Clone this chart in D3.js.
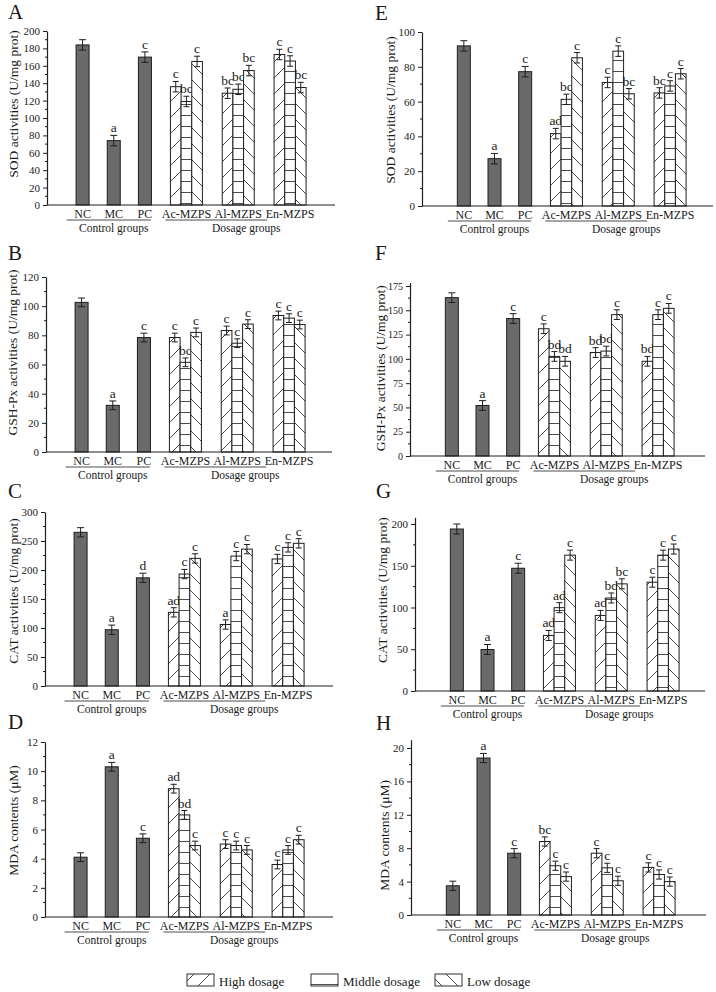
<!DOCTYPE html>
<html><head><meta charset="utf-8">
<script src="https://cdn.jsdelivr.net/npm/d3@7/dist/d3.min.js"></script>
<style>
body{margin:0;background:#fff}
svg{display:block}
text{font-family:"Liberation Serif","Times New Roman",serif;fill:#1a1a1a}
</style>
</head><body>
<svg id="chart" width="716" height="992"></svg>
<script>
// ---------- categories ----------
const controlGroups = ["NC", "MC", "PC"];
const dosageGroups = ["Ac-MZPS", "Al-MZPS", "En-MZPS"];
const dosageLevels = ["High dosage", "Middle dosage", "Low dosage"];

// ---------- A: SOD (left) ----------
const aTicks = [0, 20, 40, 60, 80, 100, 120, 140, 160, 180, 200];
const aCtrl = [184, 74, 170];
const aCtrlErr = [6, 6, 6];
const aCtrlSig = ["", "a", "c"];
const aDose = [[136, 128.5, 173], [119, 133, 165.5], [165, 154.5, 135]]; // rows: High, Middle, Low; cols: Ac, Al, En
const aDoseErr = [[6, 6, 6], [6, 6, 6], [6, 6, 6]];
const aDoseSig = [["c", "bc", "c"], ["bc", "bc", "c"], ["c", "bc", "bc"]];

// ---------- B: GSH-Px (left) ----------
const bTicks = [0, 20, 40, 60, 80, 100, 120];
const bCtrl = [102.6, 32, 78.5];
const bCtrlErr = [3, 3, 3];
const bCtrlSig = ["", "a", "c"];
const bDose = [[78.5, 83.3, 93.6], [61.5, 74.6, 91.8], [82, 87.7, 87.4]];
const bDoseErr = [[3, 3, 3], [3, 3, 3], [3, 3, 3]];
const bDoseSig = [["c", "c", "c"], ["bc", "c", "c"], ["c", "c", "c"]];

// ---------- C: CAT (left) ----------
const cTicks = [0, 50, 100, 150, 200, 250, 300];
const cCtrl = [265, 97, 186.5];
const cCtrlErr = [8, 8, 8];
const cCtrlSig = ["", "a", "d"];
const cDose = [[127, 106, 219], [193, 224, 239], [220, 236, 246]];
const cDoseErr = [[8, 8, 8], [8, 8, 8], [8, 8, 8]];
const cDoseSig = [["ad", "a", "c"], ["c", "c", "c"], ["c", "c", "c"]];

// ---------- D: MDA (left) ----------
const dTicks = [0, 2, 4, 6, 8, 10, 12];
const dCtrl = [4.1, 10.3, 5.4];
const dCtrlErr = [0.3, 0.3, 0.3];
const dCtrlSig = ["", "a", "c"];
const dDose = [[8.8, 5.0, 3.6], [7.0, 4.9, 4.6], [4.9, 4.6, 5.3]];
const dDoseErr = [[0.3, 0.3, 0.3], [0.3, 0.3, 0.3], [0.3, 0.3, 0.3]];
const dDoseSig = [["ad", "c", "c"], ["bd", "c", "c"], ["c", "c", "c"]];

// ---------- E: SOD (right) ----------
const eTicks = [0, 20, 40, 60, 80, 100];
const eCtrl = [92, 27.2, 77.2];
const eCtrlErr = [3, 3, 3];
const eCtrlSig = ["", "a", "c"];
const eDose = [[41.6, 71, 65], [61.3, 89, 69], [85.2, 64.5, 76]];
const eDoseErr = [[3, 3, 3], [3, 3, 3], [3, 3, 3]];
const eDoseSig = [["ad", "c", "bc"], ["bc", "c", "c"], ["c", "bc", "c"]];

// ---------- F: GSH-Px (right) ----------
const fTicks = [0, 25, 50, 75, 100, 125, 150, 175];
const fCtrl = [163, 52, 141.5];
const fCtrlErr = [5, 5, 5];
const fCtrlSig = ["", "a", "c"];
const fDose = [[131, 106.5, 97.5], [102.5, 108, 145.5], [97.5, 145.5, 152]];
const fDoseErr = [[5, 5, 5], [5, 5, 5], [5, 5, 5]];
const fDoseSig = [["c", "bd", "bd"], ["bd", "bd", "c"], ["bd", "c", "c"]];

// ---------- G: CAT (right) ----------
const gTicks = [0, 50, 100, 150, 200];
const gCtrl = [194, 49.7, 147];
const gCtrlErr = [6, 6, 6];
const gCtrlSig = ["", "a", "c"];
const gDose = [[66.5, 90.5, 130.3], [99.8, 111.4, 162.7], [162.7, 128.3, 170]];
const gDoseErr = [[6, 6, 6], [6, 6, 6], [6, 6, 6]];
const gDoseSig = [["ad", "ad", "c"], ["ad", "bd", "c"], ["c", "bc", "c"]];

// ---------- H: MDA (right) ----------
const hTicks = [0, 4, 8, 12, 16, 20];
const hCtrl = [3.5, 18.8, 7.4];
const hCtrlErr = [0.55, 0.55, 0.55];
const hCtrlSig = ["", "a", "c"];
const hDose = [[8.8, 7.4, 5.7], [5.9, 5.65, 4.85], [4.6, 4.1, 4.0]];
const hDoseErr = [[0.55, 0.55, 0.55], [0.55, 0.55, 0.55], [0.55, 0.55, 0.55]];
const hDoseSig = [["bc", "c", "c"], ["c", "c", "c"], ["c", "c", "c"]];

// ---------- layout ----------
const colLayout = [[20, 113.5, 269], [26.5, 118.5, 274]];
const panels = [
  {letter:"A", col:0, x0:47,  x1:335, y0:205, yTop:31,  axisMax:200,  ticks:aTicks, tf:11,   title:"SOD activities (U/mg prot)",    ctrl:aCtrl, ctrlErr:aCtrlErr, ctrlSig:aCtrlSig, dose:aDose, doseErr:aDoseErr, doseSig:aDoseSig, lx:8,   ly:19,  tx:-34, tdy:-14},
  {letter:"B", col:0, x0:46,  x1:332, y0:452, yTop:277, axisMax:120,  ticks:bTicks, tf:11,   title:"GSH-Px activities (U/mg prot)", ctrl:bCtrl, ctrlErr:bCtrlErr, ctrlSig:bCtrlSig, dose:bDose, doseErr:bDoseErr, doseSig:bDoseSig, lx:8,   ly:260, tx:-34, tdy:-12},
  {letter:"C", col:0, x0:45,  x1:333, y0:686, yTop:512, axisMax:300,  ticks:cTicks, tf:11,   title:"CAT activities (U/mg prot)",    ctrl:cCtrl, ctrlErr:cCtrlErr, ctrlSig:cCtrlSig, dose:cDose, doseErr:cDoseErr, doseSig:cDoseSig, lx:8,   ly:498, tx:-32, tdy:-8},
  {letter:"D", col:0, x0:45,  x1:333, y0:917, yTop:742, axisMax:12,   ticks:dTicks, tf:11,   title:"MDA contents (\u03bcM)",         ctrl:dCtrl, ctrlErr:dCtrlErr, ctrlSig:dCtrlSig, dose:dDose, doseErr:dDoseErr, doseSig:dDoseSig, lx:8,   ly:729, tx:-32, tdy:-9},
  {letter:"E", col:1, x0:422, x1:713, y0:206, yTop:32,  axisMax:100,  ticks:eTicks, tf:11,   title:"SOD activities (U/mg prot)",    ctrl:eCtrl, ctrlErr:eCtrlErr, ctrlSig:eCtrlSig, dose:eDose, doseErr:eDoseErr, doseSig:eDoseSig, lx:375, ly:20,  tx:-32, tdy:-9},
  {letter:"F", col:1, x0:410, x1:705, y0:456, yTop:286, axisMax:178.5,ticks:fTicks, tf:10,   title:"GSH-Px activities (U/mg prot)", ctrl:fCtrl, ctrlErr:fCtrlErr, ctrlSig:fCtrlSig, dose:fDose, doseErr:fDoseErr, doseSig:fDoseSig, lx:375, ly:260, tx:-30, tdy:-1},
  {letter:"G", col:1, x0:415, x1:705, y0:691, yTop:524, axisMax:208,  ticks:gTicks, tf:11,   title:"CAT activities (U/mg prot)",    ctrl:gCtrl, ctrlErr:gCtrlErr, ctrlSig:gCtrlSig, dose:gDose, doseErr:gDoseErr, doseSig:gDoseSig, lx:376, ly:498, tx:-33, tdy:-14},
  {letter:"H", col:1, x0:411, x1:706, y0:915, yTop:748, axisMax:21,   ticks:hTicks, tf:11,   title:"MDA contents (\u03bcM)",         ctrl:hCtrl, ctrlErr:hCtrlErr, ctrlSig:hCtrlSig, dose:hDose, doseErr:hDoseErr, doseSig:hDoseSig, lx:376, ly:730, tx:-27, tdy:8}
];

const svg = d3.select("#chart");
svg.append("rect").attr("width", 716).attr("height", 992).attr("fill", "#fff");
const ink = "#1e1e1e";

// ---------- hatch patterns ----------
const defs = svg.append("defs");
function makePattern(id, w, h, d) {
  const p = defs.append("pattern").attr("id", id).attr("patternUnits", "userSpaceOnUse")
    .attr("width", w).attr("height", h);
  p.append("rect").attr("width", w).attr("height", h).attr("fill", "#fff");
  p.append("path").attr("d", d).attr("stroke", ink).attr("stroke-width", 0.8).attr("fill", "none");
}
makePattern("pat0", 16, 16, "M-4,4 L4,-4 M0,16 L16,0 M12,20 L20,12");
makePattern("pat1", 8, 11, "M0,5.5 H8");
makePattern("pat2", 16, 16, "M-4,12 L4,20 M0,0 L16,16 M12,-4 L20,4");

function drawErr(g, cx, yTopV, yBotV, cap) {
  g.append("line").attr("x1", cx).attr("x2", cx).attr("y1", yTopV).attr("y2", yBotV)
    .attr("stroke", ink).attr("stroke-width", 1);
  [yTopV, yBotV].forEach(yy => g.append("line").attr("x1", cx - cap / 2).attr("x2", cx + cap / 2)
    .attr("y1", yy).attr("y2", yy).attr("stroke", ink).attr("stroke-width", 1));
}

panels.forEach(p => {
  const g = svg.append("g");
  const maxTick = p.ticks[p.ticks.length - 1];
  const topPx = p.y0 - (p.y0 - p.yTop) * p.axisMax / maxTick;
  const y = d3.scaleLinear().domain([0, p.axisMax]).range([p.y0, topPx]);
  const L = colLayout[p.col];
  const xc = d3.scalePoint().domain(controlGroups).range([p.x0 + L[0], p.x0 + L[1]]).padding(0.5);
  const xd = d3.scalePoint().domain(dosageGroups).range([p.x0 + L[1], p.x0 + L[2]]).padding(0.5);
  const xl = d3.scaleBand().domain(dosageLevels).range([-16, 16]).padding(0);
  const ctrlW = 13;

  // control bars
  controlGroups.forEach((c, i) => {
    const v = p.ctrl[i], e = p.ctrlErr[i];
    g.append("rect").attr("x", xc(c) - ctrlW / 2).attr("y", y(v)).attr("width", ctrlW)
      .attr("height", y(0) - y(v)).attr("fill", "#6a6a6a").attr("stroke", ink).attr("stroke-width", 1);
    drawErr(g, xc(c), y(v + e), y(v - e), 7);
    if (p.ctrlSig[i]) g.append("text").attr("x", xc(c)).attr("y", y(v + e) - 3)
      .attr("text-anchor", "middle").attr("font-size", 13.5).text(p.ctrlSig[i]);
  });

  // dosage bars
  dosageLevels.forEach((lv, li) => {
    dosageGroups.forEach((dg, gi) => {
      const v = p.dose[li][gi], e = p.doseErr[li][gi];
      const bx = xd(dg) + xl(lv);
      g.append("rect").attr("x", bx).attr("y", y(v)).attr("width", xl.bandwidth())
        .attr("height", y(0) - y(v)).attr("fill", "url(#pat" + li + ")")
        .attr("stroke", ink).attr("stroke-width", 1);
      const cx = bx + xl.bandwidth() / 2;
      drawErr(g, cx, y(v + e), y(v - e), 6);
      g.append("text").attr("x", cx).attr("y", y(v + e) - 3)
        .attr("text-anchor", "middle").attr("font-size", 13.5).text(p.doseSig[li][gi]);
    });
  });

  // y axis
  const minor = p.ticks.slice(1).map((t, i) => (t + p.ticks[i]) / 2);
  const ax = g.append("g").attr("transform", `translate(${p.x0},0)`)
    .call(d3.axisLeft(y).tickValues(p.ticks).tickSize(4).tickSizeOuter(0).tickPadding(3));
  ax.selectAll("text").attr("font-size", p.tf).attr("font-family", '"Liberation Serif",serif').attr("fill", ink);
  ax.selectAll("line").attr("stroke", ink);
  ax.select(".domain").attr("stroke", ink).attr("stroke-width", 1.2);
  minor.forEach(m => g.append("line").attr("x1", p.x0 - 2).attr("x2", p.x0).attr("y1", y(m)).attr("y2", y(m))
    .attr("stroke", ink).attr("stroke-width", 1));

  // x axis line
  g.append("line").attr("x1", p.x0).attr("x2", p.x1).attr("y1", p.y0).attr("y2", p.y0)
    .attr("stroke", ink).attr("stroke-width", 1.2);

  // category labels
  controlGroups.forEach(c => g.append("text").attr("x", xc(c)).attr("y", p.y0 + 13)
    .attr("text-anchor", "middle").attr("font-size", 12).text(c));
  dosageGroups.forEach(c => g.append("text").attr("x", xd(c)).attr("y", p.y0 + 13)
    .attr("text-anchor", "middle").attr("font-size", 12).text(c));
  g.append("line").attr("x1", xc("NC") - 16).attr("x2", xc("PC") + 6)
    .attr("y1", p.y0 + 15).attr("y2", p.y0 + 15).attr("stroke", ink).attr("stroke-width", 0.8);
  g.append("line").attr("x1", xd("Ac-MZPS") - 21).attr("x2", xd("Al-MZPS") + 29)
    .attr("y1", p.y0 + 15).attr("y2", p.y0 + 15).attr("stroke", ink).attr("stroke-width", 0.8);
  g.append("text").attr("x", xc("MC")).attr("y", p.y0 + 27).attr("text-anchor", "middle")
    .attr("font-size", 11.5).text("Control groups");
  g.append("text").attr("x", xd("Al-MZPS") + 8).attr("y", p.y0 + 27).attr("text-anchor", "middle")
    .attr("font-size", 11.5).text("Dosage groups");

  // y title
  const cy = (p.y0 + topPx) / 2 + p.tdy;
  g.append("text").attr("transform", `translate(${p.x0 + p.tx},${cy}) rotate(-90)`)
    .attr("dy", "0.35em").attr("text-anchor", "middle").attr("font-size", 13.5).text(p.title);

  // panel letter
  g.append("text").attr("x", p.lx).attr("y", p.ly).attr("font-size", 21).text(p.letter);
});

// ---------- legend ----------
const legX = d3.scalePoint().domain(dosageLevels).range([187, 435]);
const lg = svg.append("g");
dosageLevels.forEach((lv, i) => {
  lg.append("rect").attr("x", legX(lv)).attr("y", 974).attr("width", 27).attr("height", 12)
    .attr("fill", "url(#pat" + i + ")").attr("stroke", ink).attr("stroke-width", 0.9);
  lg.append("text").attr("x", legX(lv) + 32).attr("y", 985.5).attr("font-size", 13).text(lv);
});
</script>
</body></html>
